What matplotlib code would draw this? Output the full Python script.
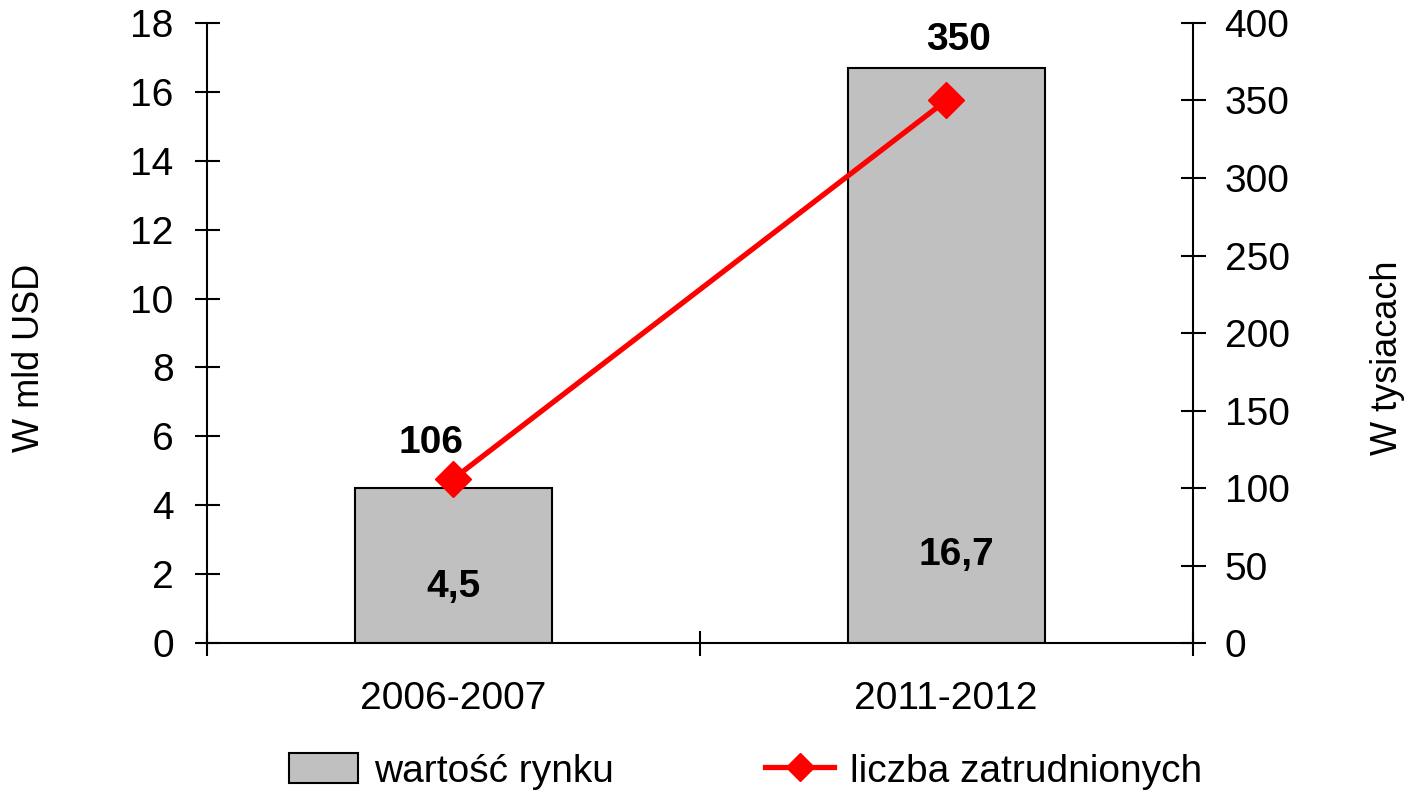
import matplotlib
matplotlib.use('Agg')
import matplotlib.pyplot as plt
from matplotlib.patches import Patch
from matplotlib.lines import Line2D

plt.rcParams['font.family'] = ['Liberation Sans', 'DejaVu Sans']

categories = ["2006-2007", "2011-2012"]
market_value = [4.5, 16.7]        # W mld USD
employed = [106, 350]             # W tysiacach
market_labels = ["4,5", "16,7"]

FS = 28

fig = plt.figure(figsize=(14.08, 7.92), dpi=100)
ax = fig.add_axes([0.147, 0.188, 0.7, 0.783])
ax2 = ax.twinx()

x = list(range(len(categories)))
ax.bar(x, market_value, width=0.4, color="#C0C0C0", edgecolor="black",
       linewidth=1.5, zorder=2)
ax.set_xlim(-0.5, 1.5)
ax.set_ylim(0, 18)
ax.set_yticks(range(0, 19, 2))
ax.set_xticks([-0.5, 0.5, 1.5])
ax.set_xticklabels([])
ax.set_xticks(x, minor=True)
ax.set_xticklabels(categories, minor=True)
ax.tick_params(axis="x", which="minor", length=0, pad=27, labelsize=FS)
ax.tick_params(axis="x", which="major", direction="inout", length=18, width=1.5)
ax.tick_params(axis="y", direction="inout", length=18, width=1.5, labelsize=FS, pad=15)
for s in ["top", "right"]:
    ax.spines[s].set_visible(False)
ax.spines["left"].set_linewidth(1.5)
ax.spines["bottom"].set_linewidth(1.5)
ax.set_ylabel("W mld USD", fontsize=26)
ax.yaxis.set_label_coords(-0.162, 0.46)

ax2.plot(x, employed, color="#FF0000", linewidth=3.8, marker="D",
         markersize=18.5, zorder=3)
ax2.set_ylim(0, 400)
ax2.set_yticks(range(0, 401, 50))
ax2.tick_params(axis="y", direction="inout", length=18, width=1.5, labelsize=FS, pad=14)
for s in ["top", "left", "bottom"]:
    ax2.spines[s].set_visible(False)
ax2.spines["right"].set_linewidth(1.5)
ax2.set_ylabel("W tysiacach", fontsize=26)
ax2.yaxis.set_label_coords(1.18, 0.46)

# etykiety danych
ax2.text(x[0] - 0.045, employed[0] + 23, str(employed[0]), ha="center", va="center",
         fontsize=FS, fontweight="bold")
ax2.text(x[1] + 0.026, employed[1] + 39, str(employed[1]), ha="center", va="center",
         fontsize=FS, fontweight="bold")
ax.text(x[0], 1.63, market_labels[0], ha="center", va="center",
        fontsize=FS, fontweight="bold")
ax.text(x[1] + 0.02, 2.55, market_labels[1], ha="center", va="center",
        fontsize=FS, fontweight="bold")

handles = [Patch(facecolor="#C0C0C0", edgecolor="black", linewidth=1.5),
           Line2D([], [], color="#FF0000", linewidth=3.8, marker="D", markersize=14)]
fig.legend(handles, ["wartość rynku", "liczba zatrudnionych"], loc="center",
           bbox_to_anchor=(0.5295, 0.026), ncol=2, frameon=False, fontsize=FS,
           columnspacing=3.9, handlelength=1.77, handletextpad=0.4,
           handleheight=0.8)

fig.savefig("out.png", dpi=100)
